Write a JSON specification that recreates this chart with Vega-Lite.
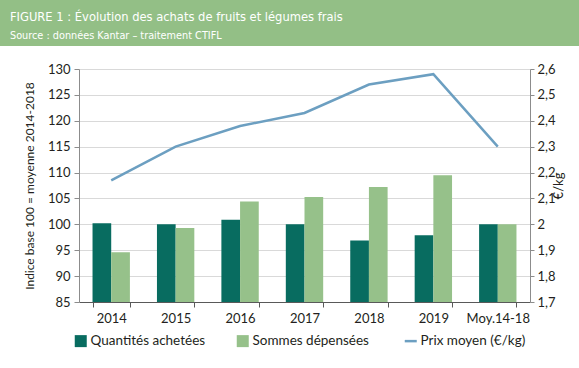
{
  "$schema": "https://vega.github.io/schema/vega-lite/v6.json",
  "padding": 0,
  "background": "#ffffff",
  "spacing": 17,
  "config": {
    "view": {"stroke": null},
    "font": "Lato",
    "axis": {"labelFont": "Lato", "titleFont": "Lato", "labelColor": "#231f20", "titleColor": "#231f20", "labelFontSize": 13, "titleFontSize": 12, "titleFontWeight": "normal"}
  },
  "datasets": {
    "barres": [
      {"annee": "2014", "serie": "Quantités achetées", "indice": 100.2},
      {"annee": "2014", "serie": "Sommes dépensées", "indice": 94.6},
      {"annee": "2015", "serie": "Quantités achetées", "indice": 100.0},
      {"annee": "2015", "serie": "Sommes dépensées", "indice": 99.3},
      {"annee": "2016", "serie": "Quantités achetées", "indice": 100.9},
      {"annee": "2016", "serie": "Sommes dépensées", "indice": 104.4},
      {"annee": "2017", "serie": "Quantités achetées", "indice": 100.0},
      {"annee": "2017", "serie": "Sommes dépensées", "indice": 105.3},
      {"annee": "2018", "serie": "Quantités achetées", "indice": 96.9},
      {"annee": "2018", "serie": "Sommes dépensées", "indice": 107.2},
      {"annee": "2019", "serie": "Quantités achetées", "indice": 97.9},
      {"annee": "2019", "serie": "Sommes dépensées", "indice": 109.5},
      {"annee": "Moy.14-18", "serie": "Quantités achetées", "indice": 100.0},
      {"annee": "Moy.14-18", "serie": "Sommes dépensées", "indice": 100.0}
    ],
    "prix": [
      {"annee": "2014", "serie": "Prix moyen (€/kg)", "prix": 2.17},
      {"annee": "2015", "serie": "Prix moyen (€/kg)", "prix": 2.30},
      {"annee": "2016", "serie": "Prix moyen (€/kg)", "prix": 2.38},
      {"annee": "2017", "serie": "Prix moyen (€/kg)", "prix": 2.43},
      {"annee": "2018", "serie": "Prix moyen (€/kg)", "prix": 2.54},
      {"annee": "2019", "serie": "Prix moyen (€/kg)", "prix": 2.58},
      {"annee": "Moy.14-18", "serie": "Prix moyen (€/kg)", "prix": 2.30}
    ]
  },
  "vconcat": [
    {
      "width": 579,
      "height": 46,
      "data": {"values": [{}]},
      "mark": {"type": "rect", "color": "#93bf86"},
      "encoding": {},
      "title": {
        "text": "FIGURE 1 : Évolution des achats de fruits et légumes frais",
        "subtitle": "Source : données Kantar – traitement CTIFL",
        "anchor": "start",
        "orient": "top",
        "frame": "group",
        "offset": -41,
        "dx": 10,
        "color": "#ffffff",
        "subtitleColor": "#ffffff",
        "font": "DejaVu Sans Condensed, Liberation Sans Narrow, Liberation Sans",
        "subtitleFont": "DejaVu Sans Condensed, Liberation Sans Narrow, Liberation Sans",
        "fontSize": 12.8,
        "subtitleFontSize": 10.8,
        "fontWeight": "normal",
        "subtitlePadding": 6
      }
    },
    {
      "spacing": 0,
      "hconcat": [
        {
          "width": 23,
          "height": 10,
          "data": {"values": []},
          "mark": "rect",
          "encoding": {}
        },
        {
          "width": 451,
          "height": 233,
          "layer": [
            {
              "data": {"name": "barres"},
              "mark": {"type": "bar", "clip": true},
              "encoding": {
                "x": {
                  "field": "annee", "type": "nominal", "sort": null,
                  "scale": {"paddingInner": 0.42, "paddingOuter": 0.21},
                  "axis": {"title": null, "labelAngle": 0, "tickBand": "extent", "tickSize": 5, "tickColor": "#595959", "domainColor": "#595959", "labelPadding": 5, "grid": false}
                },
                "xOffset": {"field": "serie", "type": "nominal", "sort": null, "scale": {"paddingInner": 0}},
                "y": {
                  "field": "indice", "type": "quantitative",
                  "scale": {"domain": [85, 130], "zero": false, "nice": false},
                  "axis": {"title": "Indice base 100 = moyenne 2014-2018", "values": [85, 90, 95, 100, 105, 110, 115, 120, 125, 130], "tickSize": 5, "tickColor": "#8c8c8c", "domainColor": "#8c8c8c", "labelPadding": 4, "titlePadding": 11, "gridColor": "#d9d9d9"}
                },
                "color": {
                  "field": "serie", "type": "nominal",
                  "scale": {"domain": ["Quantités achetées", "Sommes dépensées", "Prix moyen (€/kg)"], "range": ["#086c60", "#96c18a", "#6c9fc1"]},
                  "legend": {
                    "orient": "none", "legendX": 74, "legendY": 334, "title": null, "direction": "horizontal",
                    "labelFont": "Lato", "labelFontSize": 13.5, "labelColor": "#231f20",
                    "symbolSize": 144, "columnPadding": 30, "labelOffset": 3,
                    "encode": {"symbols": {"update": {
                      "shape": {"signal": "datum.value === 'Prix moyen (€/kg)' ? 'stroke' : 'square'"},
                      "fill": {"scale": "color", "field": "value"},
                      "stroke": {"scale": "color", "field": "value"},
                      "strokeWidth": {"signal": "datum.value === 'Prix moyen (€/kg)' ? 2.5 : 0"}
                    }}}
                  }
                }
              }
            },
            {
              "data": {"name": "prix"},
              "mark": {"type": "line", "strokeWidth": 2.5},
              "encoding": {
                "x": {"field": "annee", "type": "nominal", "sort": null},
                "y": {
                  "field": "prix", "type": "quantitative",
                  "scale": {"domain": [1.7, 2.6], "zero": false, "nice": false},
                  "axis": {"orient": "right", "title": "€/kg", "titleAngle": 270, "titleFontSize": 13, "values": [1.7, 1.8, 1.9, 2.0, 2.1, 2.2, 2.3, 2.4, 2.5, 2.6], "labelExpr": "replace(format(datum.value, '.2~f'), '.', ',')", "grid": false, "tickSize": 4, "tickColor": "#8c8c8c", "domainColor": "#8c8c8c", "labelPadding": 3, "titlePadding": 10}
                },
                "color": {"field": "serie", "type": "nominal"}
              }
            }
          ],
          "resolve": {"scale": {"y": "independent"}}
        }
      ]
    }
  ]
}
